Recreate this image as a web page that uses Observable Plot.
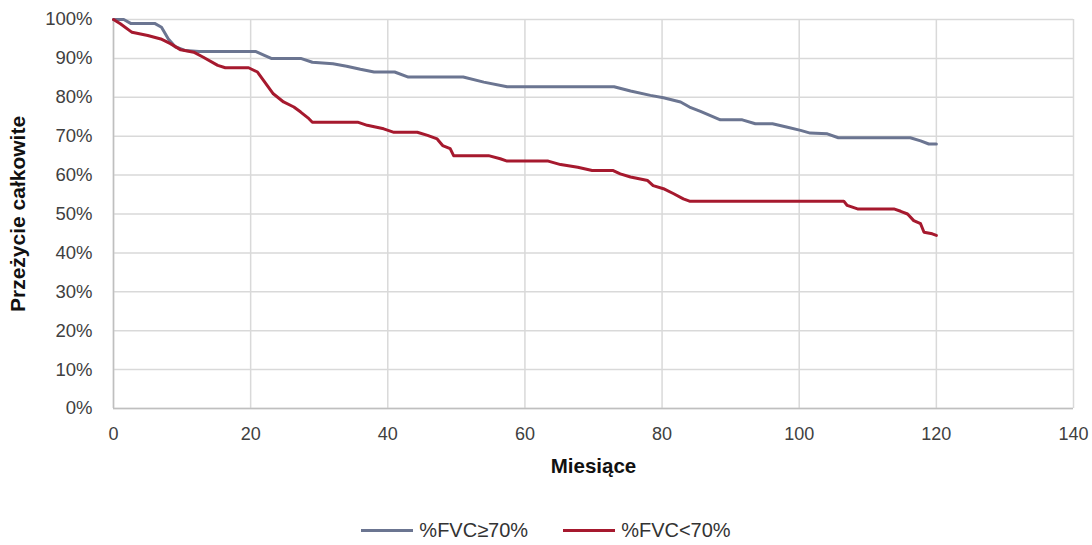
<!DOCTYPE html>
<html>
<head>
<meta charset="utf-8">
<script src="https://cdn.jsdelivr.net/npm/d3@7"></script>
<script src="https://cdn.jsdelivr.net/npm/@observablehq/plot@0.6"></script>
<style>
  html, body { margin: 0; padding: 0; background: #fff; }
  body { width: 1092px; height: 545px; overflow: hidden; font-family: "Liberation Sans", Arial, sans-serif; }
  #legend { display: flex; justify-content: center; align-items: center; height: 24px; margin-top: 28px; font-size: 20px; color: #333; padding-left: 0px; }
  .item { display: flex; align-items: center; }
  .swatch { width: 52px; height: 3px; margin-right: 6px; }
</style>
</head>
<body>
<div id="chart"></div>
<div id="legend"></div>
<script>
const seriesNames = ["%FVC≥70%", "%FVC<70%"];
const seriesColors = ["#6b7591", "#a6192e"];

const monthsHigh = [0,1.5,2.5,6,7,8,9,10.5,12.5,20.7,22,23,27.3,29,32,34,36,38,41,43,51,54,57.4,73,75.4,78.3,80.2,82.7,84,85.6,88.5,91.7,93.6,96.1,98.3,100.2,101.6,104.1,105.7,116.2,117.7,118.9,120];
const survivalHigh = [100,100,99,99,98,95,93,92,91.8,91.8,90.8,90,90,89,88.6,88,87.2,86.5,86.5,85.2,85.2,83.9,82.7,82.7,81.6,80.5,79.9,78.8,77.5,76.4,74.2,74.2,73.2,73.2,72.3,71.5,70.8,70.6,69.6,69.6,68.8,68,68];

const monthsLow = [0,1,2.7,5,6.9,8.3,9.8,11.7,13.1,15.2,16.3,19.7,21,21.9,23.3,24.8,26.3,27.3,28.5,29,35.6,37,39.4,40.9,44.3,45.8,47.2,48,49.1,49.6,54.7,56.4,57.4,63.4,65.2,67.7,69.8,72.8,73.9,75.4,77.9,78.7,80.2,81.7,83.1,84,106.5,107,108.5,113.8,114.8,115.8,116.7,117.7,118.2,119.4,120];
const survivalLow = [100,98.9,96.7,95.9,95,93.8,92.2,91.6,90.3,88.2,87.6,87.6,86.5,84.3,80.9,78.8,77.5,76.2,74.5,73.6,73.6,72.8,71.9,71,71,70.2,69.3,67.6,66.8,65,65,64.2,63.6,63.6,62.7,62,61.2,61.2,60.3,59.5,58.6,57.3,56.5,55.2,53.9,53.3,53.3,52.2,51.3,51.3,50.7,50,48.3,47.5,45.3,44.9,44.5];

const xTicks = [0,20,40,60,80,100,120,140];
const yTicks = [0,10,20,30,40,50,60,70,80,90,100];
const xLabel = "Miesiące";
const yLabel = "Przeżycie całkowite";

const data = [
  ...monthsHigh.map((m, i) => ({month: m, value: survivalHigh[i], series: seriesNames[0]})),
  ...monthsLow.map((m, i) => ({month: m, value: survivalLow[i], series: seriesNames[1]}))
];

const chart = Plot.plot({
  width: 1092,
  height: 490,
  marginTop: 19,
  marginBottom: 82,
  marginLeft: 113,
  marginRight: 19,
  style: {fontFamily: "'Liberation Sans', Arial, sans-serif", fontSize: "18px", color: "#404040", background: "#fff"},
  x: {domain: [0, 140]},
  y: {domain: [0, 100]},
  color: {domain: seriesNames, range: seriesColors},
  marks: [
    Plot.gridX(xTicks, {stroke: "#d9d9d9", strokeOpacity: 1, strokeWidth: 1.5}),
    Plot.gridY(yTicks, {stroke: "#d9d9d9", strokeOpacity: 1, strokeWidth: 1.5}),
    Plot.ruleY([0], {stroke: "#bfbfbf", strokeWidth: 1.5}),
    Plot.ruleX([0], {stroke: "#bfbfbf", strokeWidth: 1.5}),
    Plot.axisX(xTicks, {tickSize: 0, tickPadding: 19, label: null, fontSize: 18, fill: "#404040"}),
    Plot.axisY(yTicks, {tickSize: 0, tickPadding: 21, label: null, fontSize: 18.5, fill: "#404040", tickFormat: d => d + "%"}),
    Plot.line(data, {x: "month", y: "value", z: "series", stroke: "series", strokeWidth: 3, strokeLinejoin: "round"}),
    Plot.text([xLabel], {frameAnchor: "bottom", dy: 58, text: d => d, fontWeight: "bold", fontSize: 20.5, fill: "#111", lineAnchor: "middle"}),
    Plot.text([yLabel], {frameAnchor: "left", dx: -95, rotate: -90, text: d => d, fontWeight: "bold", fontSize: 21, fill: "#111", lineAnchor: "middle", textAnchor: "middle"})
  ]
});
document.getElementById("chart").appendChild(chart);

const legend = document.getElementById("legend");
seriesNames.forEach((name, i) => {
  const item = document.createElement("div");
  item.className = "item";
  if (i > 0) item.style.marginLeft = "35px";
  const sw = document.createElement("span");
  sw.className = "swatch";
  sw.style.background = seriesColors[i];
  const tx = document.createElement("span");
  tx.textContent = name;
  item.appendChild(sw);
  item.appendChild(tx);
  legend.appendChild(item);
});
</script>
</body>
</html>
